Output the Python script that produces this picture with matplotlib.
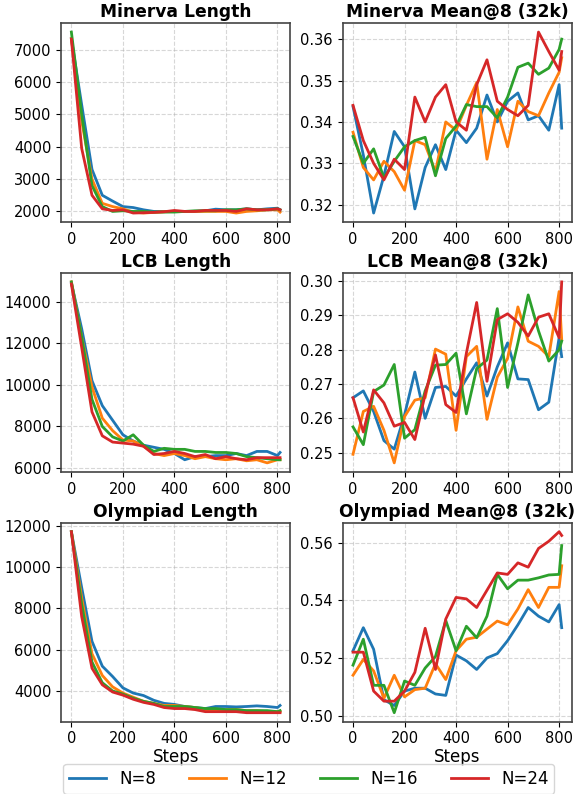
import matplotlib
matplotlib.use("Agg")
import matplotlib.pyplot as plt
from matplotlib.ticker import MultipleLocator

steps = [0, 40, 80, 120, 160, 200, 240, 280, 320, 360, 400, 440, 480, 520,
         560, 600, 640, 680, 720, 760, 800, 810]
labels = ["N=8", "N=12", "N=16", "N=24"]
colors = ["#1f77b4", "#ff7f0e", "#2ca02c", "#d62728"]

minerva_len = [
    [7350, 5300, 3300, 2500, 2320, 2150, 2120, 2050, 2000, 2000, 2000, 2000, 2000, 2020, 2070, 2050, 2050, 2080, 2050, 2080, 2100, 2050],
    [7350, 4800, 3000, 2250, 2150, 2080, 1980, 1950, 1970, 1990, 2000, 2000, 2000, 2000, 2000, 2000, 1950, 2000, 2020, 2050, 2050, 1980],
    [7550, 5000, 2800, 2150, 2000, 2020, 2000, 2000, 1980, 1980, 1980, 2000, 2020, 2020, 2020, 2050, 2050, 2080, 2050, 2050, 2080, 2050],
    [7330, 3950, 2500, 2080, 2030, 2050, 1950, 1960, 1970, 1990, 2030, 2000, 2000, 2030, 2030, 2030, 2000, 2080, 2050, 2050, 2080, 2050],
]
minerva_acc = [
    [0.3437, 0.332, 0.318, 0.327, 0.3377, 0.334, 0.319, 0.329, 0.3345, 0.3285, 0.338, 0.335, 0.3385, 0.3465, 0.340, 0.345, 0.347, 0.3405, 0.3415, 0.338, 0.349, 0.3385],
    [0.3375, 0.329, 0.326, 0.3305, 0.328, 0.3235, 0.3355, 0.3345, 0.328, 0.340, 0.338, 0.344, 0.3495, 0.331, 0.343, 0.334, 0.345, 0.3425, 0.3415, 0.347, 0.352, 0.3555],
    [0.3365, 0.330, 0.3335, 0.3265, 0.3305, 0.334, 0.3355, 0.3363, 0.327, 0.336, 0.339, 0.3442, 0.3437, 0.3437, 0.341, 0.346, 0.3532, 0.3542, 0.3515, 0.353, 0.3575, 0.360],
    [0.344, 0.3355, 0.330, 0.326, 0.331, 0.3285, 0.346, 0.340, 0.346, 0.349, 0.340, 0.338, 0.349, 0.355, 0.345, 0.343, 0.3415, 0.344, 0.3617, 0.357, 0.3525, 0.357],
]
lcb_len = [
    [14900, 12700, 10200, 9000, 8300, 7600, 7300, 7100, 7000, 6900, 6700, 6400, 6550, 6550, 6600, 6600, 6700, 6600, 6800, 6800, 6600, 6750],
    [14950, 12300, 9900, 8400, 7800, 7350, 7300, 7050, 6700, 6600, 6700, 6600, 6450, 6550, 6450, 6400, 6450, 6350, 6400, 6250, 6400, 6400],
    [14950, 12300, 9300, 8000, 7500, 7300, 7600, 7100, 6800, 6950, 6900, 6900, 6800, 6800, 6750, 6750, 6700, 6550, 6500, 6450, 6400, 6400],
    [14850, 11800, 8700, 7550, 7250, 7200, 7150, 7050, 6650, 6700, 6800, 6700, 6550, 6650, 6450, 6550, 6450, 6400, 6500, 6500, 6500, 6500],
]
lcb_acc = [
    [0.266, 0.268, 0.262, 0.2535, 0.251, 0.261, 0.2735, 0.260, 0.269, 0.2693, 0.2665, 0.2715, 0.2762, 0.2665, 0.275, 0.282, 0.2715, 0.2713, 0.2625, 0.2647, 0.2835, 0.278],
    [0.2495, 0.262, 0.2635, 0.2565, 0.247, 0.2605, 0.2653, 0.266, 0.2802, 0.2787, 0.2565, 0.278, 0.281, 0.2597, 0.272, 0.2775, 0.2925, 0.2825, 0.281, 0.278, 0.297, 0.283],
    [0.2575, 0.2523, 0.2678, 0.2697, 0.2757, 0.2542, 0.2567, 0.268, 0.2755, 0.2757, 0.279, 0.2613, 0.2745, 0.277, 0.292, 0.269, 0.282, 0.296, 0.2855, 0.2767, 0.280, 0.2825],
    [0.266, 0.256, 0.2683, 0.2645, 0.2577, 0.2588, 0.2538, 0.267, 0.2785, 0.264, 0.2617, 0.279, 0.2938, 0.2708, 0.2888, 0.2905, 0.288, 0.284, 0.2895, 0.2905, 0.2835, 0.2998],
]
olym_len = [
    [11700, 9000, 6400, 5200, 4700, 4150, 3900, 3780, 3550, 3400, 3350, 3250, 3200, 3150, 3250, 3250, 3230, 3250, 3280, 3250, 3200, 3300],
    [11700, 8500, 5800, 4750, 4200, 3900, 3700, 3500, 3400, 3300, 3300, 3250, 3200, 3100, 3100, 3100, 3100, 3050, 3050, 3000, 3000, 3000],
    [11700, 8200, 5400, 4400, 4000, 3850, 3650, 3500, 3400, 3250, 3250, 3250, 3200, 3150, 3150, 3100, 3100, 3050, 3050, 3050, 3000, 3050],
    [11700, 7600, 5100, 4300, 3950, 3800, 3600, 3450, 3350, 3200, 3150, 3150, 3100, 3000, 3000, 3000, 3000, 2950, 2950, 2950, 2950, 2950],
]
olym_acc = [
    [0.5225, 0.5305, 0.523, 0.5055, 0.5035, 0.5085, 0.5095, 0.5095, 0.5075, 0.507, 0.521, 0.519, 0.516, 0.520, 0.5215, 0.526, 0.5315, 0.5375, 0.5345, 0.5325, 0.5385, 0.5305],
    [0.514, 0.5195, 0.5155, 0.506, 0.514, 0.5065, 0.509, 0.5095, 0.518, 0.5125, 0.5225, 0.5265, 0.5272, 0.530, 0.5328, 0.5315, 0.537, 0.5437, 0.5375, 0.5445, 0.5445, 0.552],
    [0.5175, 0.5265, 0.5105, 0.5105, 0.501, 0.512, 0.5105, 0.5165, 0.5205, 0.533, 0.5225, 0.531, 0.527, 0.5345, 0.549, 0.544, 0.547, 0.547, 0.5478, 0.5488, 0.549, 0.559],
    [0.522, 0.522, 0.5085, 0.505, 0.505, 0.5085, 0.515, 0.5303, 0.516, 0.5335, 0.541, 0.5405, 0.5375, 0.5435, 0.5495, 0.549, 0.553, 0.5515, 0.558, 0.5605, 0.5638, 0.5625],
]

panels = [
    ("Minerva Length", minerva_len), ("Minerva Mean@8 (32k)", minerva_acc),
    ("LCB Length", lcb_len), ("LCB Mean@8 (32k)", lcb_acc),
    ("Olympiad Length", olym_len), ("Olympiad Mean@8 (32k)", olym_acc),
]

fig, axes = plt.subplots(3, 2, figsize=(5.75, 7.94), dpi=100)
fig.subplots_adjust(left=0.106, right=0.995, top=0.971, bottom=0.091,
                    wspace=0.227, hspace=0.255)

for ax, (title, series) in zip(axes.flat, panels):
    for vals, lab, col in zip(series, labels, colors):
        ax.plot(steps, vals, color=col, linewidth=2, label=lab)
    ax.set_title(title, fontsize=12.3, fontweight="bold", pad=4)
    ax.grid(True, linestyle="--", alpha=0.5)
    ax.set_xticks([0, 200, 400, 600, 800])
    ax.tick_params(labelsize=10.5)
    for sp in ax.spines.values():
        sp.set_color("#444444")
        sp.set_linewidth(1.2)

axes[0, 0].yaxis.set_major_locator(MultipleLocator(1000))

for ax in axes[-1]:
    ax.set_xlabel("Steps", fontsize=12, labelpad=1)

handles, labs = axes[0, 0].get_legend_handles_labels()
fig.legend(handles, labs, loc="lower center", ncol=4, fontsize=12,
           bbox_to_anchor=(0.537, -0.01), frameon=True, handlelength=2.2,
           columnspacing=2.0, borderpad=0.35)

plt.savefig("out.png", dpi=100)
plt.close()
